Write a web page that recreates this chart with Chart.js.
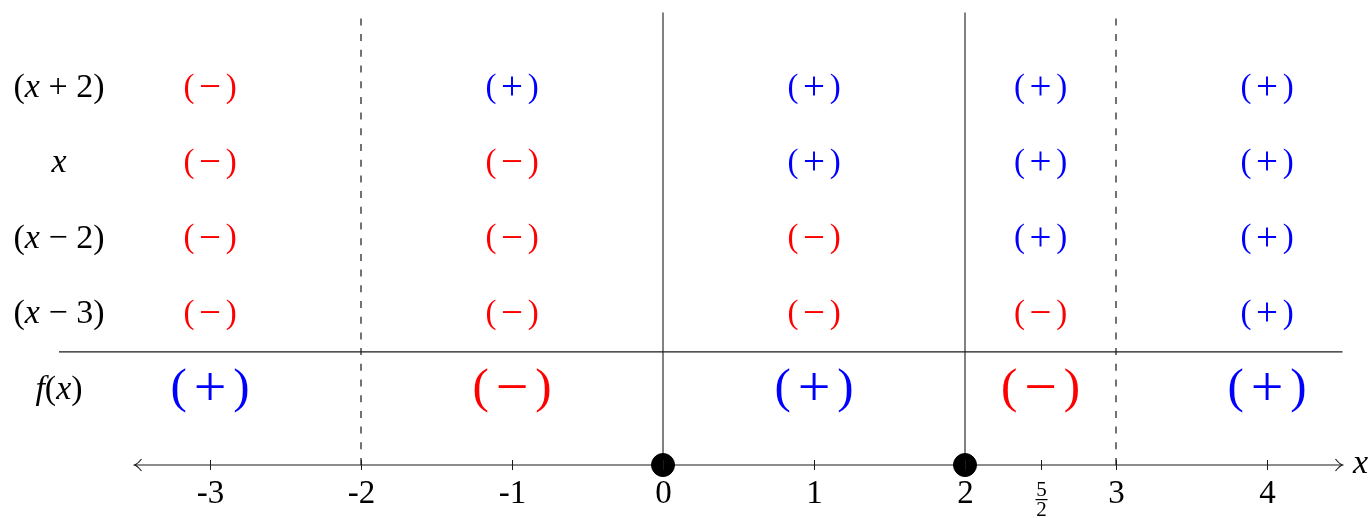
<!DOCTYPE html>
<html lang="en">
<head>
<meta charset="UTF-8">
<title>Sign chart</title>
<script src="https://cdn.jsdelivr.net/npm/chart.js"></script>
<style>
  body { margin: 0; background: #fff; }
  canvas { display: block; }
</style>
</head>
<body>
<canvas id="signChart" width="1372" height="518"></canvas>
<script>
// factors (rows) and the sign of each one on every interval
const factors = ['(x + 2)', 'x', '(x − 2)', '(x − 3)'];
const resultLabel = 'f(x)';
const intervalCenters = [-3, -1, 1, 2.5, 4];
const factorSigns = [
  ['-', '+', '+', '+', '+'],
  ['-', '-', '+', '+', '+'],
  ['-', '-', '-', '+', '+'],
  ['-', '-', '-', '-', '+']
];
const resultSigns = ['+', '-', '+', '-', '+'];
const zeros = [0, 2];        // solid lines, filled dots
const excluded = [-2, 3];    // dashed lines
const tickValues = [-3, -2, -1, 0, 1, 2, 2.5, 3, 4];
const tickLabels = ['-3', '-2', '-1', '0', '1', '2', '5/2', '3', '4'];

const RED = '#ff0000', BLUE = '#0000ff', LINE = '#1a1a1a';
const SERIF = '"Liberation Serif", "DejaVu Serif", serif';

// draw text where latin letters are italic (math style), centred on cx
function mathText(ctx, str, cx, cy, size, color) {
  const parts = [];
  for (const ch of str) {
    const it = /[a-z]/.test(ch);
    parts.push({ ch, font: (it ? 'italic ' : '') + size + 'px ' + SERIF });
  }
  let w = 0;
  parts.forEach(p => { ctx.font = p.font; p.w = ctx.measureText(p.ch).width; w += p.w; });
  let x = cx - w / 2;
  ctx.fillStyle = color;
  ctx.textAlign = 'left';
  ctx.textBaseline = 'middle';
  parts.forEach(p => { ctx.font = p.font; ctx.fillText(p.ch, x, cy); x += p.w; });
}

function signText(ctx, sign, cx, cy, size) {
  const color = sign === '+' ? BLUE : RED;
  const off = size * 0.64;
  ctx.fillStyle = color;
  ctx.textAlign = 'center';
  ctx.textBaseline = 'middle';
  ctx.font = size + 'px ' + SERIF;
  ctx.fillText('(', cx - off, cy);
  ctx.fillText(')', cx + off, cy);
  ctx.font = Math.round(size * 1.18) + 'px ' + SERIF;
  ctx.fillText(sign === '+' ? '+' : '−', cx, cy + size * 0.02);
}

const labelsPlugin = {
  id: 'signLabels',
  afterDatasetsDraw(chart) {
    const ctx = chart.ctx;
    const xs = chart.scales.x, ys = chart.scales.y;
    ctx.save();
    const labelX = xs.getPixelForValue(-4);

    // factor rows
    factors.forEach((f, i) => {
      const py = ys.getPixelForValue(5 - i);
      mathText(ctx, f, labelX, py, 34, '#000');
      intervalCenters.forEach((c, j) => signText(ctx, factorSigns[i][j], xs.getPixelForValue(c), py, 33));
    });

    // result row
    const fy = ys.getPixelForValue(1);
    mathText(ctx, resultLabel, labelX, fy, 34, '#000');
    intervalCenters.forEach((c, j) => signText(ctx, resultSigns[j], xs.getPixelForValue(c), fy, 49));

    // axis ticks and labels
    const ay = ys.getPixelForValue(0);
    ctx.strokeStyle = LINE;
    ctx.lineWidth = 1;
    tickValues.forEach((v, i) => {
      const px = Math.round(xs.getPixelForValue(v)) + 0.5;
      ctx.beginPath();
      ctx.moveTo(px, ay - 5);
      ctx.lineTo(px, ay + 5);
      ctx.stroke();
      const lab = tickLabels[i];
      ctx.fillStyle = '#000';
      ctx.textAlign = 'center';
      ctx.textBaseline = 'middle';
      if (lab.includes('/')) {
        const [n, d] = lab.split('/');
        ctx.font = '21px ' + SERIF;
        ctx.fillText(n, px, ay + 25);
        ctx.fillText(d, px, ay + 45);
        ctx.fillRect(px - 6, ay + 34, 12, 1.2);
      } else {
        ctx.font = '33px ' + SERIF;
        ctx.fillText(lab, px, ay + 29);
      }
    });

    // arrow heads
    const left = xs.getPixelForValue(-3.5), right = xs.getPixelForValue(4.5);
    ctx.lineWidth = 1.2;
    ctx.beginPath();
    ctx.moveTo(left + 7, ay - 6);
    ctx.quadraticCurveTo(left + 3, ay - 1, left, ay);
    ctx.quadraticCurveTo(left + 3, ay + 1, left + 7, ay + 6);
    ctx.moveTo(right - 7, ay - 6);
    ctx.quadraticCurveTo(right - 3, ay - 1, right, ay);
    ctx.quadraticCurveTo(right - 3, ay + 1, right - 7, ay + 6);
    ctx.stroke();

    mathText(ctx, 'x', right + 18, ay - 1, 34, '#000');
    ctx.restore();
  }
};

const lineDs = (pts, dash) => ({
  data: pts, showLine: true, borderColor: LINE, borderWidth: 1.1,
  borderDash: dash || [], pointRadius: 0, order: 2, clip: false
});

const datasets = [
  { data: zeros.map(z => ({ x: z, y: 0 })), pointRadius: 11.5, pointBackgroundColor: '#000',
    pointBorderColor: '#000', showLine: false, order: 0, clip: false },
  lineDs([{ x: -3.5, y: 0 }, { x: 4.5, y: 0 }]),
  lineDs([{ x: -4, y: 1.5 }, { x: 4.5, y: 1.5 }])
];
zeros.forEach(z => datasets.push(lineDs([{ x: z, y: 0 }, { x: z, y: 6 }])));
excluded.forEach(z => {
  const ds = lineDs([{ x: z, y: 0 }, { x: z, y: 6.02 }], [7, 8.7]);
  ds.borderColor = '#000';
  datasets.push(ds);
});

new Chart(document.getElementById('signChart'), {
  type: 'scatter',
  data: { datasets },
  options: {
    responsive: false,
    animation: false,
    devicePixelRatio: 1,
    layout: { padding: { left: 59, right: 29.5, top: 11, bottom: 53 } },
    plugins: { legend: { display: false }, tooltip: { enabled: false } },
    scales: {
      x: { type: 'linear', min: -4, max: 4.5, display: false },
      y: { type: 'linear', min: 0, max: 6, display: false }
    }
  },
  plugins: [labelsPlugin]
});
</script>
</body>
</html>
